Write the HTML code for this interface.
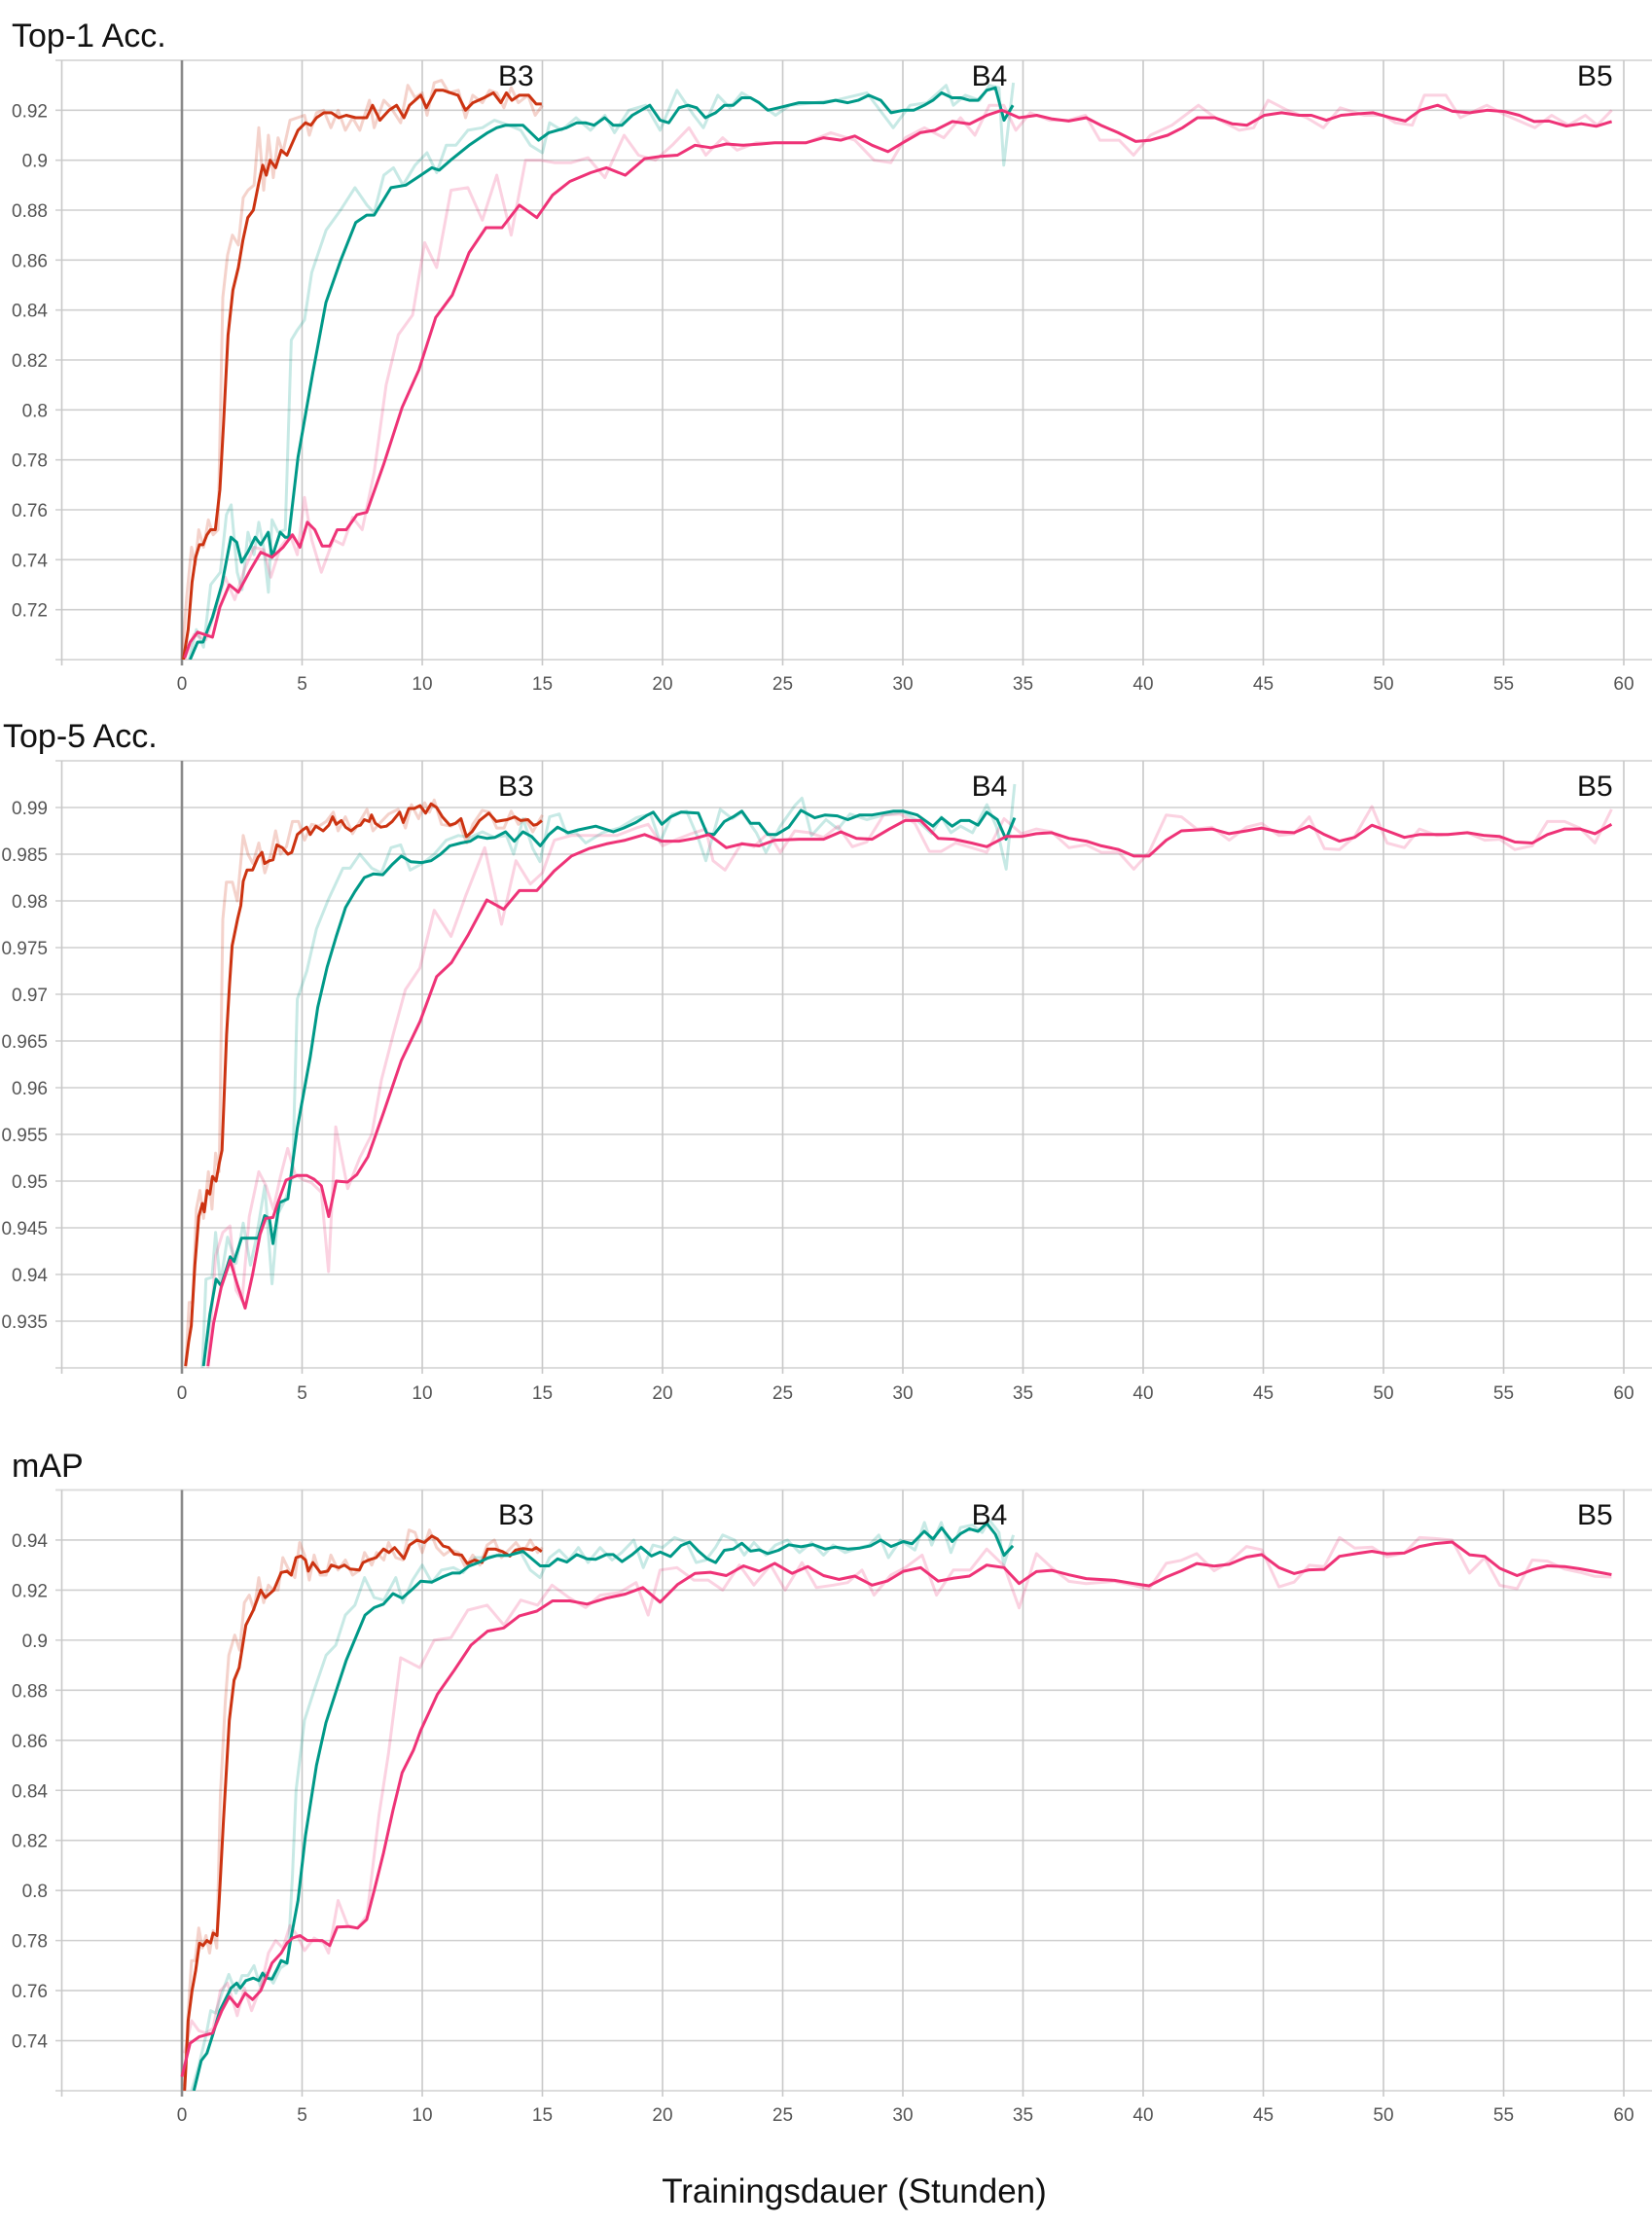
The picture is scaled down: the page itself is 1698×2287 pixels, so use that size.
<!DOCTYPE html>
<html><head><meta charset="utf-8"><title>Training curves</title>
<style>
html,body{margin:0;padding:0;background:#fff;}
svg{display:block;font-family:"Liberation Sans",Arial,sans-serif;}
</style></head>
<body>
<svg id="root" width="1698" height="2287" viewBox="0 0 1698 2287" xmlns="http://www.w3.org/2000/svg">
<text x="878" y="2264" font-size="35" text-anchor="middle" fill="#111">Trainingsdauer (Stunden)</text>
</svg>
<script>
// ---------- shared axis data ----------
const xTicks = [0,5,10,15,20,25,30,35,40,45,50,55,60];
const modelLabels = ["B3","B4","B5"];
const modelLabelHours = [13.9,33.6,58.8];
const chartTitles = ["Top-1 Acc.","Top-5 Acc.","mAP"];

// ---------- Top-1 ----------
const top1Ticks = [0.72,0.74,0.76,0.78,0.8,0.82,0.84,0.86,0.88,0.9,0.92];
const top1B3 = [[0.06,0.700],[0.26,0.712],[0.42,0.731],[0.57,0.741],[0.73,0.746],[0.88,0.746],[1.04,0.750],[1.19,0.752],[1.39,0.752],[1.58,0.768],[1.73,0.794],[1.92,0.830],[2.12,0.848],[2.35,0.857],[2.54,0.868],[2.74,0.877],[2.97,0.880],[3.2,0.891],[3.36,0.898],[3.51,0.894],[3.67,0.900],[3.9,0.897],[4.13,0.904],[4.37,0.902],[4.6,0.907],[4.83,0.912],[5.14,0.915],[5.37,0.914],[5.6,0.917],[5.91,0.919],[6.22,0.919],[6.53,0.917],[6.84,0.918],[7.23,0.917],[7.69,0.917],[7.93,0.922],[8.24,0.916],[8.62,0.920],[8.93,0.922],[9.24,0.917],[9.47,0.922],[9.94,0.926],[10.17,0.921],[10.56,0.928],[10.87,0.928],[11.18,0.927],[11.49,0.926],[11.8,0.920],[12.11,0.923],[12.57,0.925],[12.96,0.927],[13.27,0.923],[13.5,0.927],[13.73,0.924],[14.04,0.926],[14.43,0.926],[14.74,0.9225],[14.97,0.9225]];
const top1B3Raw = [[0,0.70],[0.2,0.725],[0.4,0.745],[0.55,0.738],[0.7,0.752],[0.9,0.745],[1.1,0.756],[1.3,0.75],[1.5,0.752],[1.7,0.845],[1.9,0.862],[2.1,0.87],[2.35,0.866],[2.55,0.885],[2.75,0.888],[3.0,0.89],[3.2,0.913],[3.4,0.888],[3.6,0.91],[3.8,0.893],[4.0,0.909],[4.2,0.903],[4.5,0.916],[4.8,0.917],[5.1,0.918],[5.3,0.91],[5.6,0.919],[5.9,0.92],[6.2,0.913],[6.5,0.92],[6.8,0.912],[7.1,0.917],[7.4,0.912],[7.8,0.924],[8.0,0.913],[8.4,0.924],[8.7,0.921],[9.1,0.915],[9.4,0.93],[9.7,0.925],[10.0,0.927],[10.2,0.918],[10.5,0.931],[10.8,0.932],[11.1,0.927],[11.5,0.928],[11.8,0.917],[12.1,0.926],[12.5,0.923],[12.8,0.928],[13.1,0.927],[13.4,0.921],[13.7,0.929],[14.0,0.923],[14.4,0.926],[14.7,0.918],[15.0,0.922]];
const top1B4 = [[0.34,0.700],[0.65,0.707],[0.88,0.707],[1.27,0.717],[1.66,0.730],[2.04,0.749],[2.28,0.747],[2.48,0.739],[2.74,0.743],[3.05,0.749],[3.28,0.746],[3.59,0.751],[3.75,0.741],[4.09,0.751],[4.29,0.749],[4.44,0.749],[4.83,0.781],[5.45,0.815],[5.99,0.843],[6.61,0.860],[7.23,0.875],[7.69,0.878],[8.0,0.878],[8.7,0.889],[9.32,0.890],[9.94,0.894],[10.4,0.897],[10.71,0.896],[11.18,0.900],[11.95,0.906],[12.72,0.911],[13.10,0.913],[13.47,0.914],[13.83,0.914],[14.19,0.914],[14.84,0.908],[15.27,0.911],[16.0,0.913],[16.43,0.915],[16.79,0.915],[17.15,0.914],[17.59,0.917],[17.95,0.914],[18.31,0.914],[18.74,0.918],[19.47,0.922],[19.9,0.916],[20.26,0.915],[20.69,0.921],[21.06,0.922],[21.42,0.921],[21.78,0.917],[22.21,0.919],[22.57,0.922],[22.94,0.922],[23.3,0.925],[23.66,0.925],[24.02,0.923],[24.38,0.920],[24.82,0.921],[25.25,0.922],[25.68,0.923],[26.26,0.923],[26.7,0.923],[27.2,0.924],[27.71,0.923],[28.14,0.924],[28.58,0.926],[29.08,0.924],[29.51,0.919],[30.02,0.920],[30.45,0.920],[30.89,0.922],[31.25,0.924],[31.61,0.927],[32.05,0.925],[32.41,0.925],[32.77,0.924],[33.13,0.924],[33.49,0.928],[33.85,0.929],[34.21,0.916],[34.58,0.922]];
const top1B4Raw = [[0.3,0.70],[0.6,0.712],[0.9,0.705],[1.2,0.73],[1.6,0.735],[1.85,0.758],[2.05,0.762],[2.3,0.735],[2.5,0.728],[2.75,0.751],[3.0,0.742],[3.2,0.755],[3.4,0.745],[3.6,0.727],[3.75,0.756],[4.0,0.751],[4.3,0.752],[4.55,0.828],[4.8,0.832],[5.1,0.836],[5.4,0.855],[6.0,0.872],[6.6,0.88],[7.2,0.889],[7.7,0.882],[8.0,0.879],[8.4,0.894],[8.8,0.897],[9.2,0.89],[9.7,0.898],[10.2,0.903],[10.6,0.895],[11.0,0.906],[11.4,0.906],[11.9,0.912],[12.5,0.913],[13.0,0.916],[13.6,0.914],[14.1,0.912],[14.5,0.906],[15.0,0.903],[15.3,0.915],[15.8,0.912],[16.4,0.917],[17.0,0.912],[17.6,0.918],[18.0,0.911],[18.6,0.92],[19.3,0.922],[19.9,0.912],[20.6,0.928],[21.3,0.918],[21.7,0.913],[22.3,0.926],[22.8,0.921],[23.3,0.927],[24.0,0.923],[24.7,0.918],[25.3,0.922],[26.3,0.923],[27.2,0.924],[28.5,0.927],[29.6,0.913],[30.3,0.922],[31.0,0.923],[31.8,0.930],[32.1,0.922],[32.6,0.926],[33.2,0.924],[33.6,0.93],[34.0,0.929],[34.2,0.898],[34.6,0.931]];
const top1B5 = [[0.11,0.7007],[0.34,0.707],[0.65,0.711],[1.27,0.709],[1.58,0.721],[1.97,0.730],[2.35,0.727],[2.82,0.7355],[3.28,0.743],[3.75,0.741],[4.21,0.745],[4.6,0.750],[4.91,0.745],[5.22,0.755],[5.53,0.752],[5.84,0.7455],[6.15,0.7455],[6.46,0.752],[6.84,0.752],[7.28,0.758],[7.69,0.759],[8.39,0.778],[9.16,0.801],[9.86,0.816],[10.56,0.837],[11.25,0.846],[11.95,0.863],[12.65,0.873],[13.32,0.873],[14.04,0.882],[14.77,0.877],[15.42,0.886],[16.14,0.8915],[17.01,0.895],[17.66,0.897],[18.45,0.894],[19.25,0.9006],[19.9,0.9015],[20.62,0.902],[21.35,0.906],[22.0,0.905],[22.65,0.9065],[23.37,0.906],[24.09,0.9065],[24.67,0.907],[25.97,0.907],[26.7,0.909],[27.42,0.908],[28.0,0.9097],[28.72,0.906],[29.38,0.9034],[30.0,0.907],[30.72,0.911],[31.34,0.912],[32.06,0.9155],[32.78,0.9145],[33.5,0.918],[34.12,0.920],[34.84,0.917],[35.57,0.918],[36.18,0.9166],[36.9,0.9157],[37.63,0.917],[38.24,0.914],[38.96,0.911],[39.69,0.9075],[40.3,0.908],[41.02,0.910],[41.64,0.913],[42.26,0.917],[42.98,0.917],[43.7,0.9146],[44.32,0.914],[45.04,0.918],[45.76,0.919],[46.49,0.918],[47.0,0.918],[47.62,0.916],[48.24,0.918],[48.96,0.9186],[49.57,0.919],[50.3,0.917],[50.91,0.9157],[51.53,0.920],[52.25,0.922],[52.87,0.9196],[53.59,0.919],[54.31,0.920],[55.03,0.9195],[55.65,0.918],[56.27,0.9155],[56.89,0.9157],[57.61,0.9137],[58.23,0.9146],[58.85,0.9136],[59.5,0.9155]];
const top1B5Raw = [[0.1,0.70],[0.5,0.71],[1.0,0.708],[1.4,0.72],[1.8,0.733],[2.2,0.724],[2.6,0.736],[3.0,0.745],[3.4,0.744],[3.7,0.733],[4.1,0.745],[4.5,0.75],[4.8,0.742],[5.1,0.765],[5.4,0.748],[5.8,0.735],[6.3,0.748],[6.7,0.746],[7.1,0.757],[7.5,0.752],[8.0,0.775],[8.5,0.81],[9.0,0.83],[9.6,0.838],[10.1,0.867],[10.6,0.857],[11.2,0.888],[11.9,0.889],[12.5,0.876],[13.1,0.894],[13.7,0.87],[14.3,0.9],[14.9,0.9],[15.5,0.899],[16.2,0.899],[16.9,0.901],[17.6,0.893],[18.4,0.91],[19.0,0.902],[19.7,0.9],[20.4,0.906],[21.1,0.913],[21.8,0.902],[22.5,0.909],[23.1,0.904],[23.9,0.907],[25.0,0.907],[26.0,0.907],[27.0,0.911],[28.0,0.908],[28.8,0.9],[29.5,0.899],[30.1,0.909],[30.9,0.913],[31.7,0.909],[32.4,0.917],[33.0,0.91],[33.6,0.922],[34.2,0.922],[34.7,0.912],[35.3,0.919],[36.1,0.916],[36.9,0.916],[37.6,0.918],[38.2,0.908],[39.0,0.908],[39.6,0.902],[40.3,0.91],[41.2,0.914],[42.3,0.922],[43.0,0.917],[44.0,0.912],[44.6,0.913],[45.2,0.924],[46.0,0.92],[46.8,0.917],[47.5,0.913],[48.2,0.921],[49.2,0.918],[50.0,0.918],[50.5,0.915],[51.2,0.914],[51.7,0.926],[52.6,0.926],[53.2,0.917],[54.3,0.922],[55.1,0.918],[56.3,0.913],[57.0,0.918],[57.7,0.914],[58.4,0.918],[58.9,0.914],[59.5,0.92]];

// ---------- Top-5 ----------
const top5Ticks = [0.935,0.94,0.945,0.95,0.955,0.96,0.965,0.97,0.975,0.98,0.985,0.99];
const top5B3 = [[0.15,0.9302],[0.28,0.9328],[0.39,0.9345],[0.54,0.941],[0.7,0.9462],[0.85,0.9476],[0.93,0.9467],[1.05,0.949],[1.16,0.9486],[1.27,0.9505],[1.42,0.95],[1.55,0.9519],[1.67,0.9533],[1.75,0.9586],[1.86,0.9657],[1.98,0.971],[2.09,0.9752],[2.32,0.9781],[2.45,0.9795],[2.55,0.9821],[2.71,0.9833],[2.94,0.9833],[3.17,0.9847],[3.33,0.9852],[3.44,0.984],[3.64,0.9843],[3.79,0.9844],[3.95,0.986],[4.18,0.9857],[4.41,0.985],[4.57,0.9852],[4.8,0.9871],[5.03,0.9876],[5.19,0.9879],[5.34,0.9871],[5.57,0.988],[5.88,0.9875],[6.11,0.9881],[6.27,0.989],[6.42,0.9882],[6.63,0.9886],[6.81,0.9879],[7.04,0.9875],[7.28,0.988],[7.43,0.9881],[7.59,0.9887],[7.79,0.9885],[7.89,0.9892],[8.05,0.9883],[8.28,0.9879],[8.51,0.988],[8.75,0.9885],[9.06,0.9895],[9.21,0.9884],[9.44,0.9899],[9.67,0.9899],[9.91,0.9902],[10.14,0.9894],[10.37,0.9904],[10.6,0.99],[10.84,0.989],[11.15,0.9881],[11.38,0.9883],[11.61,0.9888],[11.84,0.9869],[12.07,0.9874],[12.38,0.9886],[12.77,0.9894],[13.08,0.9885],[13.31,0.9886],[13.54,0.9887],[13.85,0.989],[14.09,0.9886],[14.4,0.9887],[14.63,0.9881],[14.78,0.9882],[14.98,0.9886]];
const top5B3Raw = [[0.15,0.930],[0.3,0.937],[0.45,0.937],[0.6,0.947],[0.75,0.949],[0.9,0.946],[1.1,0.951],[1.25,0.947],[1.4,0.953],[1.55,0.951],[1.7,0.978],[1.85,0.982],[2.1,0.982],[2.3,0.98],[2.55,0.987],[2.75,0.985],[2.95,0.984],[3.2,0.9862],[3.45,0.983],[3.7,0.985],[3.9,0.9875],[4.1,0.985],[4.35,0.9858],[4.6,0.9885],[4.85,0.9885],[5.1,0.9865],[5.4,0.9882],[5.7,0.988],[6.0,0.9885],[6.3,0.9895],[6.5,0.9875],[6.8,0.989],[7.1,0.9872],[7.4,0.9885],[7.7,0.9898],[7.95,0.9875],[8.3,0.9885],[8.6,0.9893],[9.0,0.9898],[9.3,0.9878],[9.55,0.9903],[9.85,0.9888],[10.1,0.9905],[10.3,0.9895],[10.5,0.9908],[10.8,0.9882],[11.2,0.988],[11.5,0.9885],[11.85,0.9862],[12.1,0.9882],[12.5,0.9897],[12.8,0.9895],[13.1,0.9878],[13.4,0.9878],[13.7,0.9896],[14.0,0.9882],[14.3,0.9888],[14.6,0.9874],[15.0,0.9892]];
const top5B4 = [[0.9,0.9302],[1.16,0.9357],[1.42,0.9395],[1.63,0.9388],[2.01,0.9419],[2.17,0.9414],[2.48,0.9439],[3.17,0.9439],[3.44,0.9463],[3.64,0.946],[3.79,0.9433],[4.06,0.9477],[4.41,0.9481],[4.8,0.9557],[5.34,0.9633],[5.65,0.9686],[6.04,0.9729],[6.42,0.9762],[6.81,0.9793],[7.2,0.981],[7.59,0.9825],[7.97,0.9829],[8.36,0.9828],[8.75,0.9839],[9.13,0.9848],[9.52,0.9842],[9.98,0.9841],[10.37,0.9843],[10.76,0.985],[11.15,0.9859],[11.61,0.9862],[12.0,0.9864],[12.31,0.9869],[12.69,0.9867],[13.03,0.9868],[13.47,0.9874],[13.83,0.9864],[14.19,0.9874],[14.55,0.9869],[14.91,0.9859],[15.27,0.9871],[15.63,0.9879],[16.07,0.9873],[16.5,0.9876],[17.22,0.988],[17.95,0.9874],[18.38,0.9878],[18.89,0.9884],[19.32,0.9891],[19.61,0.9895],[19.97,0.9882],[20.33,0.989],[20.77,0.9895],[21.49,0.9894],[21.85,0.9872],[22.14,0.9871],[22.57,0.9885],[22.94,0.989],[23.3,0.9896],[23.66,0.9883],[24.02,0.9883],[24.38,0.9871],[24.74,0.9871],[25.25,0.9879],[25.76,0.9897],[26.33,0.9889],[26.77,0.9892],[27.27,0.9891],[27.71,0.9887],[28.21,0.9892],[28.72,0.9892],[29.15,0.9894],[29.59,0.9896],[30.02,0.9896],[30.6,0.9892],[31.25,0.988],[31.61,0.9889],[32.05,0.988],[32.41,0.9886],[32.77,0.9886],[33.13,0.9881],[33.49,0.9895],[33.93,0.9887],[34.29,0.9866],[34.65,0.9889]];
const top5B4Raw = [[0.85,0.930],[1.0,0.9395],[1.25,0.9397],[1.4,0.9445],[1.6,0.939],[1.9,0.944],[2.25,0.9412],[2.55,0.9455],[2.85,0.941],[3.1,0.944],[3.45,0.9495],[3.75,0.939],[4.0,0.9465],[4.3,0.948],[4.6,0.9504],[4.8,0.9695],[5.2,0.9725],[5.6,0.977],[6.1,0.9802],[6.7,0.9835],[7.0,0.9835],[7.4,0.985],[7.9,0.9835],[8.3,0.983],[8.7,0.9857],[9.1,0.986],[9.5,0.9833],[10.0,0.984],[10.5,0.985],[11.0,0.9865],[11.5,0.987],[12.0,0.9868],[12.5,0.9874],[13.0,0.9868],[13.5,0.987],[13.8,0.985],[14.2,0.9888],[14.6,0.9856],[14.9,0.9842],[15.3,0.989],[15.7,0.9893],[16.0,0.9872],[16.4,0.9873],[16.8,0.9862],[17.5,0.9873],[18.2,0.9878],[18.9,0.9889],[19.5,0.9893],[19.9,0.9863],[20.4,0.9893],[21.0,0.9896],[21.5,0.9866],[21.8,0.9843],[22.4,0.9898],[22.9,0.9888],[23.3,0.9895],[23.9,0.9873],[24.3,0.9852],[24.9,0.988],[25.5,0.9902],[25.8,0.991],[26.2,0.987],[26.8,0.9887],[27.3,0.9877],[27.8,0.9893],[28.5,0.9887],[29.2,0.9892],[30.0,0.9895],[30.6,0.9886],[31.2,0.9872],[31.6,0.989],[32.0,0.9873],[32.4,0.988],[32.9,0.9873],[33.5,0.9903],[33.9,0.9879],[34.3,0.9834],[34.65,0.9925]];
const top5B5 = [[1.08,0.9302],[1.32,0.9348],[1.63,0.9386],[2.01,0.9415],[2.32,0.9388],[2.63,0.9364],[2.94,0.94],[3.25,0.9443],[3.48,0.946],[3.79,0.9461],[4.02,0.9479],[4.33,0.9501],[4.8,0.9506],[5.19,0.9506],[5.5,0.9502],[5.8,0.9495],[6.11,0.9462],[6.42,0.95],[6.89,0.9499],[7.28,0.9507],[7.74,0.9526],[8.36,0.9571],[9.13,0.9629],[9.91,0.9671],[10.6,0.9719],[11.22,0.9734],[11.92,0.9764],[12.69,0.9801],[13.39,0.9791],[14.04,0.9811],[14.77,0.9811],[15.49,0.9832],[16.21,0.9848],[16.94,0.9856],[17.66,0.9861],[18.45,0.9865],[19.25,0.9871],[19.97,0.9864],[20.69,0.9864],[21.35,0.9867],[21.92,0.9871],[22.65,0.9857],[23.3,0.9861],[24.02,0.9859],[24.67,0.9865],[25.68,0.9866],[26.7,0.9866],[27.42,0.9874],[28.07,0.9867],[28.72,0.9866],[29.44,0.9877],[30.09,0.9886],[30.74,0.9886],[31.47,0.9867],[32.12,0.9866],[32.86,0.9862],[33.49,0.9858],[34.3,0.9869],[34.93,0.9869],[35.56,0.9872],[36.19,0.9873],[36.91,0.9867],[37.63,0.9864],[38.26,0.9859],[38.98,0.9855],[39.61,0.9848],[40.24,0.9848],[40.96,0.9865],[41.59,0.9875],[42.86,0.9877],[43.58,0.9872],[44.3,0.9875],[44.93,0.9878],[45.65,0.9874],[46.28,0.9873],[46.91,0.988],[47.54,0.9871],[48.17,0.9864],[48.8,0.9868],[49.52,0.9881],[50.15,0.9875],[50.87,0.9868],[51.5,0.9871],[52.68,0.9871],[53.49,0.9873],[54.21,0.987],[54.84,0.9869],[55.47,0.9863],[56.19,0.9862],[56.82,0.9871],[57.54,0.9877],[58.17,0.9877],[58.8,0.9872],[59.49,0.9882]];
const top5B5Raw = [[1.08,0.930],[1.4,0.942],[1.7,0.9445],[2.0,0.9452],[2.25,0.9383],[2.5,0.9372],[2.8,0.9462],[3.2,0.951],[3.5,0.9495],[3.8,0.947],[4.1,0.9505],[4.4,0.9535],[4.7,0.9508],[5.0,0.9502],[5.4,0.9498],[5.8,0.9488],[6.1,0.9403],[6.4,0.9558],[6.9,0.9492],[7.4,0.9525],[7.9,0.955],[8.3,0.9608],[8.8,0.9658],[9.3,0.9705],[9.9,0.9728],[10.5,0.979],[11.2,0.9762],[11.8,0.9805],[12.6,0.9857],[13.3,0.9775],[13.9,0.9843],[14.5,0.9818],[15.0,0.983],[15.5,0.9865],[16.2,0.987],[16.7,0.987],[17.4,0.987],[18.1,0.987],[18.9,0.9878],[19.4,0.9882],[20.0,0.9859],[20.6,0.9866],[21.2,0.9872],[21.8,0.9877],[22.1,0.9843],[22.6,0.9833],[23.3,0.9862],[23.8,0.9858],[24.4,0.9873],[24.9,0.9852],[25.5,0.9875],[26.1,0.9873],[26.7,0.9868],[27.3,0.988],[27.9,0.9858],[28.5,0.9863],[29.2,0.9892],[29.9,0.9893],[30.5,0.9883],[31.1,0.9853],[31.6,0.9853],[32.2,0.9862],[32.86,0.9857],[33.49,0.9852],[34.21,0.9888],[34.93,0.9872],[35.56,0.9877],[36.19,0.9874],[36.91,0.9857],[37.63,0.986],[38.26,0.9852],[38.98,0.9852],[39.61,0.9834],[40.24,0.9852],[40.96,0.9892],[41.59,0.989],[42.23,0.9877],[42.86,0.9879],[43.58,0.9865],[44.3,0.9879],[44.93,0.9883],[45.65,0.987],[46.28,0.9872],[46.91,0.989],[47.54,0.9856],[48.17,0.9855],[48.8,0.9869],[49.52,0.9901],[50.15,0.9862],[50.87,0.9857],[51.5,0.9877],[52.23,0.987],[53.49,0.9873],[54.21,0.9865],[54.84,0.9866],[55.47,0.9855],[56.19,0.9859],[56.82,0.9885],[57.54,0.9885],[58.17,0.9878],[58.8,0.9862],[59.49,0.9898]];

// ---------- mAP ----------
const mapTicks = [0.74,0.76,0.78,0.8,0.82,0.84,0.86,0.88,0.9,0.92,0.94];
const mapB3 = [[0.11,0.720],[0.19,0.734],[0.26,0.748],[0.42,0.760],[0.57,0.768],[0.73,0.779],[0.88,0.778],[1.04,0.780],[1.19,0.779],[1.3,0.783],[1.46,0.782],[1.55,0.796],[1.73,0.828],[1.97,0.868],[2.17,0.884],[2.38,0.889],[2.66,0.906],[2.97,0.912],[3.28,0.920],[3.47,0.917],[3.82,0.920],[4.13,0.927],[4.37,0.9276],[4.55,0.926],[4.75,0.933],[4.95,0.9336],[5.14,0.932],[5.26,0.9276],[5.45,0.931],[5.76,0.927],[6.07,0.9276],[6.22,0.930],[6.53,0.929],[6.76,0.930],[7.0,0.9284],[7.38,0.928],[7.54,0.931],[7.77,0.932],[8.08,0.933],[8.39,0.9364],[8.62,0.935],[8.85,0.937],[9.24,0.9326],[9.47,0.938],[9.78,0.940],[10.09,0.939],[10.4,0.9416],[10.63,0.9404],[10.87,0.9376],[11.1,0.937],[11.33,0.9344],[11.64,0.934],[11.87,0.9306],[12.18,0.932],[12.49,0.931],[12.72,0.9364],[13.03,0.9364],[13.34,0.9354],[13.65,0.9336],[13.89,0.936],[14.2,0.9366],[14.58,0.936],[14.74,0.937],[14.97,0.9354]];
const mapB3Raw = [[0.1,0.722],[0.25,0.75],[0.4,0.772],[0.55,0.772],[0.7,0.785],[0.85,0.777],[1.0,0.782],[1.15,0.775],[1.3,0.784],[1.45,0.777],[1.6,0.838],[1.8,0.875],[1.95,0.894],[2.2,0.902],[2.4,0.896],[2.6,0.915],[2.8,0.918],[3.0,0.912],[3.2,0.925],[3.4,0.915],[3.6,0.922],[3.8,0.92],[4.0,0.92],[4.2,0.933],[4.45,0.928],[4.7,0.925],[4.9,0.939],[5.1,0.934],[5.3,0.924],[5.5,0.934],[5.75,0.926],[6.0,0.926],[6.2,0.934],[6.5,0.928],[6.8,0.932],[7.1,0.926],[7.4,0.928],[7.6,0.935],[7.9,0.93],[8.1,0.935],[8.4,0.932],[8.6,0.939],[8.9,0.933],[9.2,0.932],[9.45,0.944],[9.7,0.943],[10.0,0.935],[10.3,0.944],[10.6,0.937],[10.9,0.934],[11.2,0.936],[11.5,0.935],[11.8,0.929],[12.1,0.934],[12.4,0.93],[12.7,0.938],[13.0,0.94],[13.3,0.933],[13.6,0.936],[13.9,0.939],[14.2,0.935],[14.5,0.94],[14.8,0.935],[15.0,0.937]];
const mapB4 = [[0.5,0.720],[0.8,0.732],[1.04,0.735],[1.27,0.742],[1.58,0.752],[2.04,0.761],[2.28,0.763],[2.43,0.761],[2.66,0.764],[2.97,0.765],[3.2,0.764],[3.36,0.767],[3.51,0.765],[3.75,0.7646],[3.98,0.769],[4.13,0.772],[4.37,0.771],[4.52,0.780],[4.83,0.796],[5.14,0.822],[5.6,0.850],[5.99,0.867],[6.46,0.881],[6.84,0.892],[7.62,0.910],[8.0,0.913],[8.39,0.9144],[8.78,0.9186],[9.16,0.9168],[9.55,0.920],[9.94,0.9236],[10.4,0.9232],[10.87,0.9254],[11.25,0.9268],[11.56,0.9268],[11.95,0.9296],[12.34,0.931],[12.72,0.9328],[13.1,0.9338],[13.61,0.9339],[14.19,0.9355],[14.91,0.9297],[15.27,0.9297],[15.63,0.9325],[16.02,0.9312],[16.43,0.9342],[16.86,0.9325],[17.22,0.9323],[17.66,0.9342],[17.95,0.9342],[18.31,0.9314],[18.74,0.9342],[19.1,0.9372],[19.54,0.9336],[19.9,0.9352],[20.33,0.9334],[20.77,0.9378],[21.13,0.9392],[21.49,0.9356],[21.85,0.9326],[22.21,0.931],[22.57,0.9359],[22.94,0.9364],[23.3,0.9387],[23.66,0.9356],[24.02,0.9361],[24.38,0.9346],[24.82,0.9359],[25.25,0.9381],[25.76,0.9373],[26.26,0.9382],[26.77,0.9364],[27.2,0.9372],[27.71,0.9364],[28.21,0.9368],[28.65,0.9377],[29.08,0.94],[29.51,0.9374],[30.02,0.9394],[30.38,0.9385],[30.89,0.9435],[31.25,0.9404],[31.61,0.9449],[32.05,0.9394],[32.41,0.9426],[32.77,0.9445],[33.13,0.9435],[33.49,0.9467],[33.85,0.9423],[34.21,0.9339],[34.58,0.9377]];
const mapB4Raw = [[0.4,0.72],[0.7,0.73],[1.0,0.742],[1.2,0.752],[1.4,0.751],[1.7,0.76],[1.95,0.7665],[2.25,0.759],[2.5,0.766],[2.75,0.766],[3.0,0.77],[3.25,0.762],[3.5,0.767],[3.8,0.763],[4.1,0.769],[4.4,0.771],[4.6,0.806],[4.75,0.84],[5.1,0.868],[5.5,0.88],[6.0,0.894],[6.4,0.898],[6.8,0.91],[7.2,0.914],[7.6,0.925],[8.0,0.917],[8.4,0.916],[8.9,0.925],[9.2,0.915],[9.6,0.924],[10.0,0.93],[10.4,0.923],[10.8,0.928],[11.3,0.929],[11.7,0.927],[12.2,0.933],[12.7,0.933],[13.1,0.934],[13.6,0.934],[14.1,0.935],[14.5,0.928],[14.9,0.925],[15.3,0.933],[15.7,0.936],[16.1,0.932],[16.5,0.937],[16.9,0.931],[17.4,0.937],[17.9,0.932],[18.3,0.935],[18.8,0.94],[19.2,0.929],[19.6,0.938],[20.0,0.937],[20.5,0.941],[21.0,0.939],[21.4,0.931],[21.8,0.932],[22.2,0.937],[22.5,0.942],[23.0,0.94],[23.4,0.934],[23.8,0.939],[24.3,0.934],[24.7,0.938],[25.2,0.94],[25.7,0.935],[26.2,0.939],[26.7,0.934],[27.1,0.938],[27.6,0.935],[28.2,0.937],[28.6,0.938],[29.0,0.942],[29.4,0.933],[29.9,0.94],[30.5,0.936],[30.9,0.947],[31.2,0.938],[31.6,0.947],[32.0,0.935],[32.4,0.945],[32.9,0.946],[33.3,0.943],[33.6,0.948],[34.0,0.943],[34.2,0.93],[34.6,0.942]];
const mapB5 = [[0.0,0.7256],[0.34,0.739],[0.73,0.7416],[1.27,0.743],[1.66,0.752],[1.97,0.7576],[2.32,0.7536],[2.63,0.759],[2.94,0.7564],[3.28,0.760],[3.75,0.771],[4.13,0.775],[4.37,0.779],[4.6,0.781],[4.91,0.782],[5.22,0.780],[5.84,0.780],[6.15,0.778],[6.46,0.7854],[6.92,0.7856],[7.31,0.785],[7.69,0.7884],[8.0,0.800],[8.39,0.815],[8.78,0.832],[9.16,0.847],[9.63,0.856],[9.94,0.864],[10.63,0.8784],[11.33,0.888],[12.03,0.898],[12.72,0.9036],[13.39,0.9049],[14.04,0.9097],[14.77,0.9116],[15.42,0.9157],[16.14,0.9157],[16.86,0.9144],[17.66,0.9168],[18.45,0.9184],[19.18,0.921],[19.9,0.9152],[20.62,0.9222],[21.35,0.9267],[21.99,0.9271],[22.65,0.9258],[23.37,0.9297],[24.02,0.9275],[24.67,0.9307],[25.39,0.9267],[26.04,0.9294],[26.7,0.9258],[27.35,0.9243],[28.0,0.9256],[28.72,0.922],[29.37,0.9237],[30.02,0.9275],[30.74,0.929],[31.47,0.9236],[32.12,0.9248],[32.77,0.9256],[33.49,0.93],[34.21,0.929],[34.84,0.9226],[35.56,0.9274],[36.19,0.9279],[36.91,0.9261],[37.63,0.9246],[38.8,0.9239],[39.61,0.9226],[40.24,0.9217],[40.96,0.9252],[41.59,0.9277],[42.23,0.9306],[42.95,0.9296],[43.58,0.9303],[44.3,0.9332],[44.93,0.9342],[45.65,0.929],[46.28,0.9266],[46.91,0.9281],[47.54,0.9283],[48.17,0.9335],[48.8,0.9345],[49.52,0.9355],[50.15,0.9345],[50.87,0.9348],[51.5,0.9374],[52.14,0.9386],[52.86,0.9392],[53.58,0.9341],[54.21,0.9335],[54.84,0.9287],[55.56,0.9258],[56.19,0.9281],[56.82,0.9297],[57.54,0.9294],[58.17,0.9285],[58.8,0.9274],[59.49,0.9262]];
const mapB5Raw = [[0.1,0.735],[0.4,0.748],[0.7,0.744],[1.0,0.743],[1.3,0.745],[1.6,0.760],[1.9,0.763],[2.3,0.75],[2.6,0.761],[2.9,0.752],[3.3,0.762],[3.6,0.775],[3.9,0.78],[4.2,0.777],[4.5,0.786],[4.8,0.782],[5.1,0.776],[5.5,0.781],[5.9,0.779],[6.1,0.775],[6.5,0.796],[6.9,0.786],[7.3,0.785],[7.7,0.79],[8.2,0.83],[8.6,0.855],[9.1,0.893],[9.9,0.889],[10.5,0.9],[11.2,0.901],[11.9,0.912],[12.7,0.914],[13.4,0.906],[14.1,0.916],[14.8,0.914],[15.4,0.922],[16.1,0.917],[16.8,0.913],[17.4,0.918],[18.2,0.919],[18.9,0.923],[19.4,0.91],[19.9,0.928],[20.6,0.929],[21.3,0.924],[21.9,0.924],[22.5,0.92],[23.2,0.93],[23.8,0.922],[24.5,0.93],[25.1,0.92],[25.8,0.931],[26.4,0.921],[27.1,0.922],[27.7,0.923],[28.3,0.928],[28.8,0.918],[29.5,0.926],[30.1,0.929],[30.8,0.934],[31.4,0.918],[32.1,0.928],[32.8,0.928],[33.49,0.9364],[34.21,0.9297],[34.84,0.9129],[35.56,0.9346],[36.19,0.929],[36.91,0.9235],[37.63,0.9226],[38.8,0.9235],[39.61,0.9219],[40.24,0.9204],[40.96,0.9307],[41.59,0.9319],[42.23,0.9346],[42.95,0.9277],[43.58,0.9312],[44.3,0.9374],[44.93,0.9361],[45.65,0.9213],[46.28,0.9232],[46.91,0.9299],[47.54,0.9294],[48.17,0.941],[48.8,0.9368],[49.52,0.9372],[50.15,0.9333],[50.87,0.9348],[51.5,0.941],[52.14,0.9406],[52.86,0.94],[53.58,0.9268],[54.21,0.9329],[54.84,0.9219],[55.56,0.9206],[56.19,0.932],[56.82,0.9316],[57.54,0.9284],[58.17,0.9271],[58.8,0.9255],[59.49,0.9252]];

// ---------- drawing ----------
const NS = "http://www.w3.org/2000/svg";
const svg = document.getElementById("root");
const C_B3 = "#cc3311", C_B4 = "#009988", C_B5 = "#ee3377";
const charts = [
  {key:"top1", title:chartTitles[0], titleX:12, titleY:48, top:62, bottom:678, ymin:0.70, ymax:0.94, ticks:top1Ticks, xlabY:709, bY:88,
   series:[[top1B3Raw,top1B3,C_B3,"b3"],[top1B4Raw,top1B4,C_B4,"b4"],[top1B5Raw,top1B5,C_B5,"b5"]]},
  {key:"top5", title:chartTitles[1], titleX:3, titleY:768, top:782, bottom:1406, ymin:0.93, ymax:0.995, ticks:top5Ticks, xlabY:1438, bY:818,
   series:[[top5B3Raw,top5B3,C_B3,"b3"],[top5B4Raw,top5B4,C_B4,"b4"],[top5B5Raw,top5B5,C_B5,"b5"]]},
  {key:"map", title:chartTitles[2], titleX:12, titleY:1518, top:1531.5, bottom:2149, ymin:0.72, ymax:0.96, ticks:mapTicks, xlabY:2180, bY:1567,
   series:[[mapB3Raw,mapB3,C_B3,"b3"],[mapB4Raw,mapB4,C_B4,"b4"],[mapB5Raw,mapB5,C_B5,"b5"]]}
];
function xScale(h){ return 187 + h*24.7; }
function mk(tag, attrs){ const e=document.createElementNS(NS,tag); for(const k in attrs) e.setAttribute(k,attrs[k]); return e; }

charts.forEach((c, ci) => {
  const yScale = v => c.bottom - (v - c.ymin)/(c.ymax - c.ymin)*(c.bottom - c.top);
  const g = mk("g",{});
  
  
  svg.appendChild(g);

  const title = mk("text",{x:c.titleX, y:c.titleY, "font-size":34, fill:"#111"});
  
  
  title.textContent = c.title;
  g.appendChild(title);

  [c.top, c.bottom].forEach((y, i) => {
    const l = mk("line",{x1:57, x2:1698, y1:y, y2:y, stroke:"#dcdcdc", "stroke-width":2});
    
    
    g.appendChild(l);
  });
  c.ticks.forEach(v => {
    const y = yScale(v);
    const l = mk("line",{x1:57, x2:1698, y1:y, y2:y, stroke:"#cfcfcf", "stroke-width":1.6});
    
    
    g.appendChild(l);
    const t = mk("text",{x:49, y:y+7, "font-size":19, fill:"#555", "text-anchor":"end"});
    
    
    t.textContent = String(parseFloat(v.toFixed(3)));
    g.appendChild(t);
  });
  const xs = [-5].concat(xTicks);
  xs.forEach(h => {
    const x = xScale(h);
    const l = mk("line",{x1:x, x2:x, y1:c.top, y2:c.bottom+6, stroke: h===0 ? "#8a8a8a" : "#c8c8c8", "stroke-width": h===0 ? 2.6 : 1.6});
    
    
    g.appendChild(l);
  });
  xTicks.forEach(h => {
    const t = mk("text",{x:xScale(h), y:c.xlabY, "font-size":19, fill:"#555", "text-anchor":"middle"});
    
    
    t.textContent = String(h);
    g.appendChild(t);
  });
  const cp = mk("clipPath",{id:"clip"+ci});
  cp.appendChild(mk("rect",{x:64, y:c.top-4, width:1640, height:c.bottom-c.top+4}));
  g.appendChild(cp);
  const toPath = arr => arr.map((p,i) => (i?"L":"M") + xScale(p[0]).toFixed(1) + "," + yScale(p[1]).toFixed(1)).join("");
  c.series.forEach(s => {
    const raw = mk("path",{d:toPath(s[0]), fill:"none", stroke:s[2], "stroke-opacity":0.22, "stroke-width":3, "stroke-linejoin":"round", "clip-path":"url(#clip"+ci+")"});
    
    
    g.appendChild(raw);
  });
  c.series.forEach(s => {
    const sm = mk("path",{d:toPath(s[1]), fill:"none", stroke:s[2], "stroke-width":3, "stroke-linejoin":"round", "clip-path":"url(#clip"+ci+")"});
    
    
    g.appendChild(sm);
  });
  modelLabels.forEach((lab, i) => {
    const t = mk("text",{x:xScale(modelLabelHours[i]), y:c.bY, "font-size":30, fill:"#111", "text-anchor":"middle"});
    
    
    t.textContent = lab;
    g.appendChild(t);
  });
});
</script>
</body></html>
